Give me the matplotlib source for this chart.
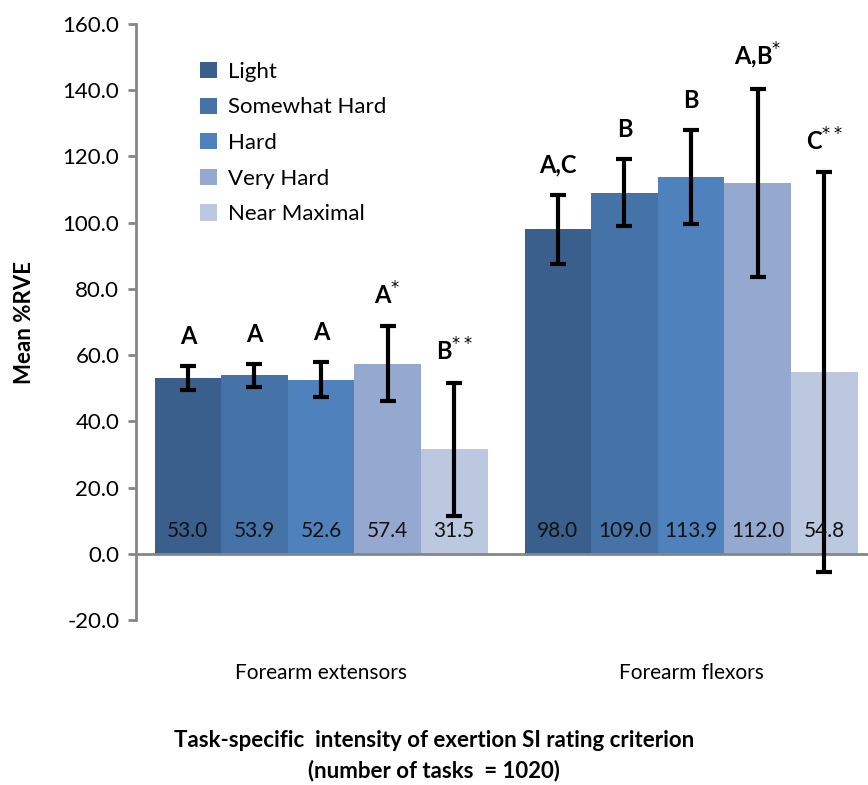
import numpy as np
import matplotlib
matplotlib.use('Agg')
import matplotlib.pyplot as plt

plt.rcParams['font.family'] = ['Lato', 'DejaVu Sans']

# Datos
grupos = ['Forearm extensors', 'Forearm flexors']
series = ['Light', 'Somewhat Hard', 'Hard', 'Very Hard', 'Near Maximal']
colores = ['#3b5f8c', '#4572a7', '#4f81bd', '#95a9d0', '#bbc8e0']

media_ext = [53.0, 53.9, 52.6, 57.4, 31.5]
media_flex = [98.0, 109.0, 113.9, 112.0, 54.8]
err_ext = [3.6, 3.4, 5.2, 11.3, 20.2]
err_flex = [10.5, 10.1, 14.2, 28.3, 60.4]
letras_ext = ['A', 'A', 'A', r'A$^{*}$', r'B$^{**}$']
letras_flex = ['A,C', 'B', 'B', r'A,B$^{*}$', r'C$^{**}$']

medias = np.array([media_ext, media_flex])
errores = np.array([err_ext, err_flex])
letras = [letras_ext, letras_flex]

fig = plt.figure(figsize=(8.68, 7.85), dpi=100)
ax = fig.add_axes([0.1567, 0.2102, 0.8433, 0.7592])

ancho = 0.18
x = np.arange(len(grupos))
for i, serie in enumerate(series):
    pos = x + (i - 2) * ancho
    ax.bar(pos, medias[:, i], ancho, color=colores[i], label=serie, zorder=2)
    ax.errorbar(pos, medias[:, i], yerr=errores[:, i], fmt='none', ecolor='black',
                elinewidth=3, capsize=6, capthick=3, zorder=4)
    for j in range(len(grupos)):
        ax.text(pos[j], 7, '%.1f' % medias[j, i], ha='center', va='center',
                fontsize=15, color='#111111', zorder=5)
        ax.annotate(letras[j][i], (pos[j], medias[j, i] + errores[j, i]),
                    xytext=(0, 13), textcoords='offset points', ha='center',
                    va='bottom', fontsize=17, fontweight='bold')

ax.axhline(0, color='#868686', lw=2, zorder=3)
ax.set_xlim(-0.5, 1.478)
ax.set_ylim(-20, 160)
ax.set_yticks(np.arange(-20, 161, 20))
ax.set_yticklabels(['%.1f' % v for v in np.arange(-20, 161, 20)], fontsize=16)
ax.set_xticks(x)
ax.set_xticklabels(grupos, fontsize=15)
ax.tick_params(axis='x', length=0, pad=31)
ax.tick_params(axis='y', length=6, width=2, color='#868686', pad=6)
for s in ['top', 'right', 'bottom']:
    ax.spines[s].set_visible(False)
ax.spines['left'].set_color('#868686')
ax.spines['left'].set_linewidth(2)

ax.set_ylabel('Mean %RVE', fontsize=16, fontweight='bold', labelpad=20)
fig.text(0.5, 0.005, 'Task-specific  intensity of exertion SI rating criterion\n(number of tasks  = 1020)',
         ha='center', va='bottom', fontsize=16, fontweight='bold', linespacing=1.45)

ax.legend(loc='upper left', bbox_to_anchor=(0.06, 0.97), frameon=False, fontsize=16,
          handlelength=0.75, handleheight=0.75, handletextpad=0.5, labelspacing=0.7)

fig.savefig('out.png', dpi=100)
